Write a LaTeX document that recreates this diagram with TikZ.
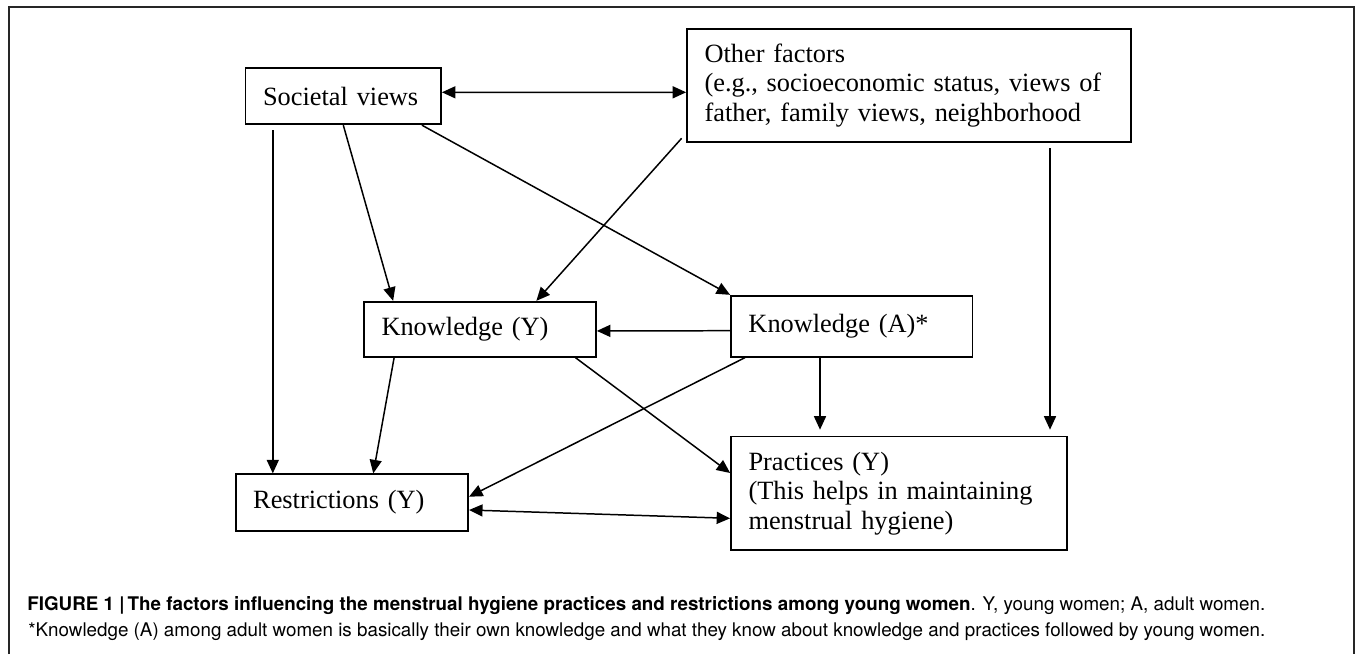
\documentclass[tikz,border=0pt]{standalone}
\usepackage{fontspec}
\setmainfont{Liberation Serif}
\newfontfamily\capfont{TeX Gyre Heros}
\usetikzlibrary{arrows.meta}

\begin{document}
\begin{tikzpicture}[x=0.02cm, y=-0.02cm,
  >={Triangle[length=0.27cm, width=0.24cm]},
  factor/.style={draw, line width=1pt, rectangle, align=left,
    inner xsep=0.35cm, inner ysep=0pt, font=\fontsize{15}{16.8}\selectfont},
  link/.style={line width=0.85pt},
  caption/.style={anchor=base west, inner sep=0pt,
    font=\capfont\fontsize{10.7}{12}\selectfont}]

  % Page and open frame
  \useasboundingbox (0,0) rectangle (1355,654);
  \draw [line width=0.8pt, black!85] (9,654) |- (1354,7) -- (1354,654);

  % Societal views
  \node [factor, text width=3.21cm, minimum height=1.12cm] (sv) at (343.3,96.3)
    {Societal views};
  % Other factors
  \node [factor, text width=8.18cm, minimum height=2.26cm] (of) at (909,85.5)
    {Other factors\\(e.g., socioeconomic status, views of\\father, family views, neighborhood};
  % Knowledge of young women
  \node [factor, text width=3.94cm, minimum height=1.1cm] (ky) at (480,329.2)
    {Knowledge (Y)};
  % Knowledge of adult women
  \node [factor, text width=4.13cm, minimum height=1.22cm] (ka) at (851.7,326.2)
    {Knowledge (A)*};
  % Restrictions
  \node [factor, text width=3.95cm, minimum height=1.13cm] (rs) at (351.9,502.5)
    {Restrictions (Y)};
  % Practices
  \node [factor, text width=6.02cm, minimum height=2.27cm] (pr) at (899,493.3)
    {Practices (Y)\\(This helps in maintaining\\menstrual hygiene)};

  % Free ends of the long vertical links
  \coordinate (svl) at (272.8,130);
  \coordinate (ofr) at (1050,148);
  \coordinate (kab) at (820,356.7);
  \coordinate (ofs) at (681.6,138.3);

  % Links from societal views
  \draw [link, <->] ([yshift=0.08cm]sv.east) -- ([yshift=-0.136cm]of.west);
  \draw [link, ->] (svl) -- (svl |- rs.north);
  \draw [link, ->] (sv.south) -- ([xshift=0.6cm]ky.north west);
  \draw [link, ->] ([xshift=-0.4cm]sv.south east) -- (ka.north west);

  % Links from other factors
  \draw [link, ->] (ofs) -- ([xshift=-1.21cm]ky.north east);
  \draw [link, ->, shorten >=0.12cm] (ofr) -- (ofr |- pr.north);

  % Links from knowledge (A)
  \draw [link, ->] ([yshift=-0.09cm]ka.west) -- ([yshift=-0.034cm]ky.east);
  \draw [link, ->, shorten >=0.12cm] (kab) -- (kab |- pr.north);
  \draw [link, ->] ([xshift=0.3cm]ka.south west) -- ([yshift=0.116cm]rs.east);

  % Links from knowledge (Y)
  \draw [link, ->] ([xshift=0.62cm]ky.south west) -- ([xshift=2.77cm]rs.north west);
  \draw [link, ->] ([xshift=-0.43cm]ky.south east) -- ([yshift=0.406cm]pr.west);

  % Restrictions and practices
  \draw [link, <->] ([yshift=-0.15cm]rs.east) -- ([yshift=-0.5cm]pr.west);

  % Caption
  \node [caption] (cap) at (27,610)
    {\textbf{FIGURE 1 \textbar\,The factors influencing the menstrual hygiene practices and restrictions among young women}. Y, young women; A, adult women.};
  \node [caption] (note) at (28,636)
    {*Knowledge (A) among adult women is basically their own knowledge and what they know about knowledge and practices followed by young women.};
\end{tikzpicture}
\end{document}
